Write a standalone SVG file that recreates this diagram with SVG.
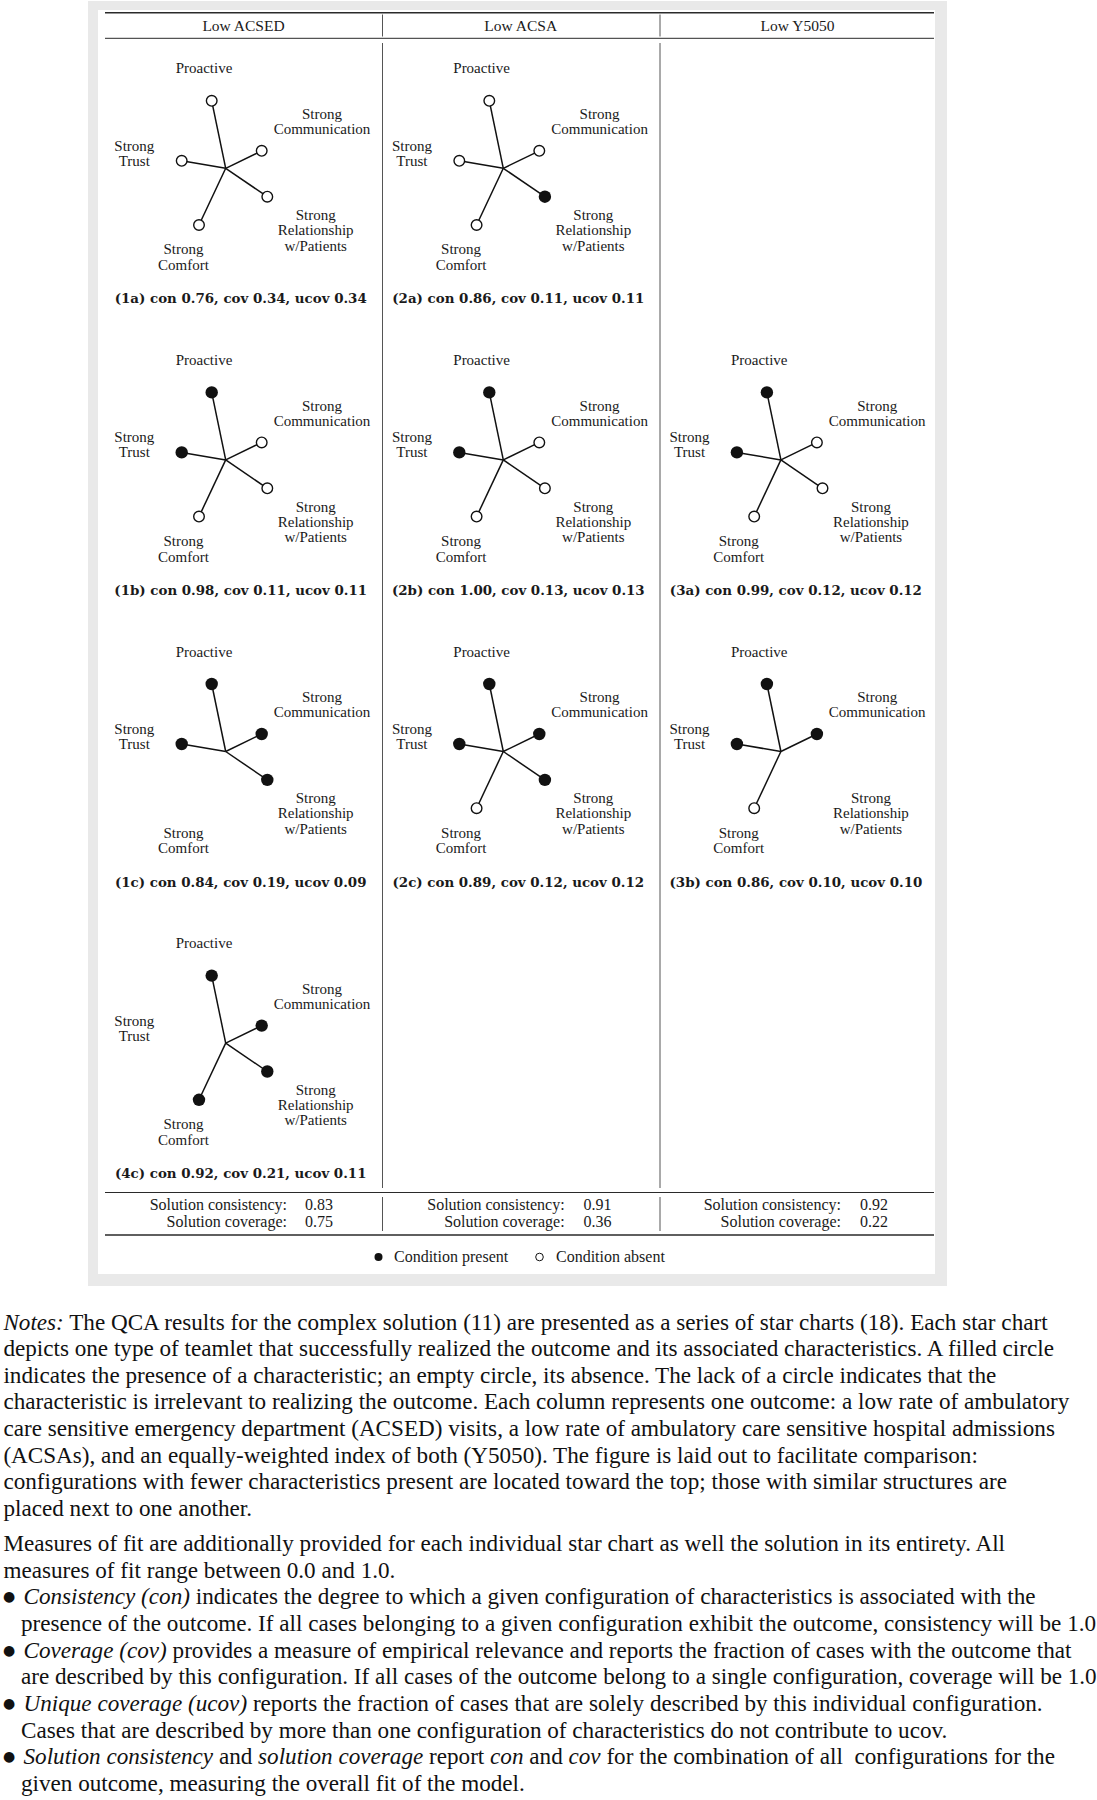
<svg xmlns="http://www.w3.org/2000/svg" width="1097" height="1800" viewBox="0 0 1097 1800">
<style>
.bg{fill:#e9e9e9}
.panel{fill:#ffffff}
.rule{stroke:#2a2a2a;stroke-width:1}
.rule-h{stroke:#2a2a2a;stroke-width:1.4}
.div{stroke:#555;stroke-width:1}
.hdr{font-family:"Liberation Serif","Times New Roman",serif;font-size:15.5px;fill:#1a1a1a;text-anchor:middle}
.lbl{font-family:"Liberation Serif","Times New Roman",serif;font-size:15px;fill:#1a1a1a;text-anchor:middle}
.cap{font-family:"DejaVu Serif",serif;font-weight:bold;font-size:13.4px;fill:#1a1a1a;text-anchor:middle}
.sol{font-family:"Liberation Serif","Times New Roman",serif;font-size:16px;fill:#1a1a1a}
.sr{text-anchor:end}
.spokes line{stroke:#111;stroke-width:1.5}
.on{fill:#111}
.off{fill:#fff;stroke:#111;stroke-width:1.4}
.note{font-family:"Liberation Serif","Times New Roman",serif;font-size:23.15px;fill:#111}
.it{font-style:italic}
.bul{font-family:"DejaVu Sans",sans-serif;font-size:14px;baseline-shift:3px}
</style>

<rect class="bg" x="88" y="1" width="859" height="1285"/>
<rect class="panel" x="98" y="10" width="837" height="1264"/>

<g id="table-rules">
<line class="rule-h" x1="105" y1="12.7" x2="934" y2="12.7"/>
<line class="rule" x1="105" y1="38.3" x2="934" y2="38.3"/>
<line class="rule" x1="105" y1="1192.5" x2="934" y2="1192.5"/>
<line class="rule-h" x1="105" y1="1235" x2="934" y2="1235"/>
<line class="div" x1="382.5" y1="14.5" x2="382.5" y2="36.5"/>
<line class="div" x1="660" y1="14.5" x2="660" y2="36.5"/>
<line class="div" x1="382.5" y1="43" x2="382.5" y2="1188"/>
<line class="div" x1="660" y1="43" x2="660" y2="1188"/>
<line class="div" x1="382.5" y1="1197" x2="382.5" y2="1231"/>
<line class="div" x1="660" y1="1197" x2="660" y2="1231"/>
</g>

<g id="headers">
<text class="hdr" x="243.5" y="30.5">Low ACSED</text>
<text class="hdr" x="520.7" y="30.5">Low ACSA</text>
<text class="hdr" x="797.5" y="30.5">Low Y5050</text>
</g>

<!-- Chart 1a -->
<g id="chart-1a" transform="translate(225.7,168.3)">
<g class="spokes"><line x1="0" y1="0" x2="-14" y2="-67.5"/><line x1="0" y1="0" x2="36" y2="-17.5"/><line x1="0" y1="0" x2="-44" y2="-7.5"/><line x1="0" y1="0" x2="41.6" y2="28.4"/><line x1="0" y1="0" x2="-26.7" y2="56.7"/></g>
<circle class="off" cx="-14" cy="-67.5" r="5.3"/><circle class="off" cx="36" cy="-17.5" r="5.3"/><circle class="off" cx="-44" cy="-7.5" r="5.3"/><circle class="off" cx="41.6" cy="28.4" r="5.3"/><circle class="off" cx="-26.7" cy="56.7" r="5.3"/>
<text class="lbl" x="-21.7" y="-95">Proactive</text>
<text class="lbl" x="96.3" y="-49.3">Strong</text><text class="lbl" x="96.3" y="-34.3">Communication</text>
<text class="lbl" x="-91.4" y="-17.6">Strong</text><text class="lbl" x="-91.4" y="-2.6">Trust</text>
<text class="lbl" x="90" y="51.7">Strong</text><text class="lbl" x="90" y="66.9">Relationship</text><text class="lbl" x="90" y="82.3">w/Patients</text>
<text class="lbl" x="-42.2" y="86.2">Strong</text><text class="lbl" x="-42.2" y="101.7">Comfort</text>
<text class="cap" x="15" y="135">(1a) con 0.76, cov 0.34, ucov 0.34</text>
</g>

<!-- Chart 2a -->
<g id="chart-2a" transform="translate(503.3,168.3)">
<g class="spokes"><line x1="0" y1="0" x2="-14" y2="-67.5"/><line x1="0" y1="0" x2="36" y2="-17.5"/><line x1="0" y1="0" x2="-44" y2="-7.5"/><line x1="0" y1="0" x2="41.6" y2="28.4"/><line x1="0" y1="0" x2="-26.7" y2="56.7"/></g>
<circle class="off" cx="-14" cy="-67.5" r="5.3"/><circle class="off" cx="36" cy="-17.5" r="5.3"/><circle class="off" cx="-44" cy="-7.5" r="5.3"/><circle class="on" cx="41.6" cy="28.4" r="6.2"/><circle class="off" cx="-26.7" cy="56.7" r="5.3"/>
<text class="lbl" x="-21.7" y="-95">Proactive</text>
<text class="lbl" x="96.3" y="-49.3">Strong</text><text class="lbl" x="96.3" y="-34.3">Communication</text>
<text class="lbl" x="-91.4" y="-17.6">Strong</text><text class="lbl" x="-91.4" y="-2.6">Trust</text>
<text class="lbl" x="90" y="51.7">Strong</text><text class="lbl" x="90" y="66.9">Relationship</text><text class="lbl" x="90" y="82.3">w/Patients</text>
<text class="lbl" x="-42.2" y="86.2">Strong</text><text class="lbl" x="-42.2" y="101.7">Comfort</text>
<text class="cap" x="15" y="135">(2a) con 0.86, cov 0.11, ucov 0.11</text>
</g>

<!-- Chart 1b -->
<g id="chart-1b" transform="translate(225.7,459.9)">
<g class="spokes"><line x1="0" y1="0" x2="-14" y2="-67.5"/><line x1="0" y1="0" x2="36" y2="-17.5"/><line x1="0" y1="0" x2="-44" y2="-7.5"/><line x1="0" y1="0" x2="41.6" y2="28.4"/><line x1="0" y1="0" x2="-26.7" y2="56.7"/></g>
<circle class="on" cx="-14" cy="-67.5" r="6.2"/><circle class="off" cx="36" cy="-17.5" r="5.3"/><circle class="on" cx="-44" cy="-7.5" r="6.2"/><circle class="off" cx="41.6" cy="28.4" r="5.3"/><circle class="off" cx="-26.7" cy="56.7" r="5.3"/>
<text class="lbl" x="-21.7" y="-95">Proactive</text>
<text class="lbl" x="96.3" y="-49.3">Strong</text><text class="lbl" x="96.3" y="-34.3">Communication</text>
<text class="lbl" x="-91.4" y="-17.6">Strong</text><text class="lbl" x="-91.4" y="-2.6">Trust</text>
<text class="lbl" x="90" y="51.7">Strong</text><text class="lbl" x="90" y="66.9">Relationship</text><text class="lbl" x="90" y="82.3">w/Patients</text>
<text class="lbl" x="-42.2" y="86.2">Strong</text><text class="lbl" x="-42.2" y="101.7">Comfort</text>
<text class="cap" x="15" y="135">(1b) con 0.98, cov 0.11, ucov 0.11</text>
</g>

<!-- Chart 2b -->
<g id="chart-2b" transform="translate(503.3,459.9)">
<g class="spokes"><line x1="0" y1="0" x2="-14" y2="-67.5"/><line x1="0" y1="0" x2="36" y2="-17.5"/><line x1="0" y1="0" x2="-44" y2="-7.5"/><line x1="0" y1="0" x2="41.6" y2="28.4"/><line x1="0" y1="0" x2="-26.7" y2="56.7"/></g>
<circle class="on" cx="-14" cy="-67.5" r="6.2"/><circle class="off" cx="36" cy="-17.5" r="5.3"/><circle class="on" cx="-44" cy="-7.5" r="6.2"/><circle class="off" cx="41.6" cy="28.4" r="5.3"/><circle class="off" cx="-26.7" cy="56.7" r="5.3"/>
<text class="lbl" x="-21.7" y="-95">Proactive</text>
<text class="lbl" x="96.3" y="-49.3">Strong</text><text class="lbl" x="96.3" y="-34.3">Communication</text>
<text class="lbl" x="-91.4" y="-17.6">Strong</text><text class="lbl" x="-91.4" y="-2.6">Trust</text>
<text class="lbl" x="90" y="51.7">Strong</text><text class="lbl" x="90" y="66.9">Relationship</text><text class="lbl" x="90" y="82.3">w/Patients</text>
<text class="lbl" x="-42.2" y="86.2">Strong</text><text class="lbl" x="-42.2" y="101.7">Comfort</text>
<text class="cap" x="15" y="135">(2b) con 1.00, cov 0.13, ucov 0.13</text>
</g>

<!-- Chart 3a -->
<g id="chart-3a" transform="translate(780.9,459.9)">
<g class="spokes"><line x1="0" y1="0" x2="-14" y2="-67.5"/><line x1="0" y1="0" x2="36" y2="-17.5"/><line x1="0" y1="0" x2="-44" y2="-7.5"/><line x1="0" y1="0" x2="41.6" y2="28.4"/><line x1="0" y1="0" x2="-26.7" y2="56.7"/></g>
<circle class="on" cx="-14" cy="-67.5" r="6.2"/><circle class="off" cx="36" cy="-17.5" r="5.3"/><circle class="on" cx="-44" cy="-7.5" r="6.2"/><circle class="off" cx="41.6" cy="28.4" r="5.3"/><circle class="off" cx="-26.7" cy="56.7" r="5.3"/>
<text class="lbl" x="-21.7" y="-95">Proactive</text>
<text class="lbl" x="96.3" y="-49.3">Strong</text><text class="lbl" x="96.3" y="-34.3">Communication</text>
<text class="lbl" x="-91.4" y="-17.6">Strong</text><text class="lbl" x="-91.4" y="-2.6">Trust</text>
<text class="lbl" x="90" y="51.7">Strong</text><text class="lbl" x="90" y="66.9">Relationship</text><text class="lbl" x="90" y="82.3">w/Patients</text>
<text class="lbl" x="-42.2" y="86.2">Strong</text><text class="lbl" x="-42.2" y="101.7">Comfort</text>
<text class="cap" x="15" y="135">(3a) con 0.99, cov 0.12, ucov 0.12</text>
</g>

<!-- Chart 1c -->
<g id="chart-1c" transform="translate(225.7,751.5)">
<g class="spokes"><line x1="0" y1="0" x2="-14" y2="-67.5"/><line x1="0" y1="0" x2="36" y2="-17.5"/><line x1="0" y1="0" x2="-44" y2="-7.5"/><line x1="0" y1="0" x2="41.6" y2="28.4"/></g>
<circle class="on" cx="-14" cy="-67.5" r="6.2"/><circle class="on" cx="36" cy="-17.5" r="6.2"/><circle class="on" cx="-44" cy="-7.5" r="6.2"/><circle class="on" cx="41.6" cy="28.4" r="6.2"/>
<text class="lbl" x="-21.7" y="-95">Proactive</text>
<text class="lbl" x="96.3" y="-49.3">Strong</text><text class="lbl" x="96.3" y="-34.3">Communication</text>
<text class="lbl" x="-91.4" y="-17.6">Strong</text><text class="lbl" x="-91.4" y="-2.6">Trust</text>
<text class="lbl" x="90" y="51.7">Strong</text><text class="lbl" x="90" y="66.9">Relationship</text><text class="lbl" x="90" y="82.3">w/Patients</text>
<text class="lbl" x="-42.2" y="86.2">Strong</text><text class="lbl" x="-42.2" y="101.7">Comfort</text>
<text class="cap" x="15" y="135">(1c) con 0.84, cov 0.19, ucov 0.09</text>
</g>

<!-- Chart 2c -->
<g id="chart-2c" transform="translate(503.3,751.5)">
<g class="spokes"><line x1="0" y1="0" x2="-14" y2="-67.5"/><line x1="0" y1="0" x2="36" y2="-17.5"/><line x1="0" y1="0" x2="-44" y2="-7.5"/><line x1="0" y1="0" x2="41.6" y2="28.4"/><line x1="0" y1="0" x2="-26.7" y2="56.7"/></g>
<circle class="on" cx="-14" cy="-67.5" r="6.2"/><circle class="on" cx="36" cy="-17.5" r="6.2"/><circle class="on" cx="-44" cy="-7.5" r="6.2"/><circle class="on" cx="41.6" cy="28.4" r="6.2"/><circle class="off" cx="-26.7" cy="56.7" r="5.3"/>
<text class="lbl" x="-21.7" y="-95">Proactive</text>
<text class="lbl" x="96.3" y="-49.3">Strong</text><text class="lbl" x="96.3" y="-34.3">Communication</text>
<text class="lbl" x="-91.4" y="-17.6">Strong</text><text class="lbl" x="-91.4" y="-2.6">Trust</text>
<text class="lbl" x="90" y="51.7">Strong</text><text class="lbl" x="90" y="66.9">Relationship</text><text class="lbl" x="90" y="82.3">w/Patients</text>
<text class="lbl" x="-42.2" y="86.2">Strong</text><text class="lbl" x="-42.2" y="101.7">Comfort</text>
<text class="cap" x="15" y="135">(2c) con 0.89, cov 0.12, ucov 0.12</text>
</g>

<!-- Chart 3b -->
<g id="chart-3b" transform="translate(780.9,751.5)">
<g class="spokes"><line x1="0" y1="0" x2="-14" y2="-67.5"/><line x1="0" y1="0" x2="36" y2="-17.5"/><line x1="0" y1="0" x2="-44" y2="-7.5"/><line x1="0" y1="0" x2="-26.7" y2="56.7"/></g>
<circle class="on" cx="-14" cy="-67.5" r="6.2"/><circle class="on" cx="36" cy="-17.5" r="6.2"/><circle class="on" cx="-44" cy="-7.5" r="6.2"/><circle class="off" cx="-26.7" cy="56.7" r="5.3"/>
<text class="lbl" x="-21.7" y="-95">Proactive</text>
<text class="lbl" x="96.3" y="-49.3">Strong</text><text class="lbl" x="96.3" y="-34.3">Communication</text>
<text class="lbl" x="-91.4" y="-17.6">Strong</text><text class="lbl" x="-91.4" y="-2.6">Trust</text>
<text class="lbl" x="90" y="51.7">Strong</text><text class="lbl" x="90" y="66.9">Relationship</text><text class="lbl" x="90" y="82.3">w/Patients</text>
<text class="lbl" x="-42.2" y="86.2">Strong</text><text class="lbl" x="-42.2" y="101.7">Comfort</text>
<text class="cap" x="15" y="135">(3b) con 0.86, cov 0.10, ucov 0.10</text>
</g>

<!-- Chart 4c -->
<g id="chart-4c" transform="translate(225.7,1043.1)">
<g class="spokes"><line x1="0" y1="0" x2="-14" y2="-67.5"/><line x1="0" y1="0" x2="36" y2="-17.5"/><line x1="0" y1="0" x2="41.6" y2="28.4"/><line x1="0" y1="0" x2="-26.7" y2="56.7"/></g>
<circle class="on" cx="-14" cy="-67.5" r="6.2"/><circle class="on" cx="36" cy="-17.5" r="6.2"/><circle class="on" cx="41.6" cy="28.4" r="6.2"/><circle class="on" cx="-26.7" cy="56.7" r="6.2"/>
<text class="lbl" x="-21.7" y="-95">Proactive</text>
<text class="lbl" x="96.3" y="-49.3">Strong</text><text class="lbl" x="96.3" y="-34.3">Communication</text>
<text class="lbl" x="-91.4" y="-17.6">Strong</text><text class="lbl" x="-91.4" y="-2.6">Trust</text>
<text class="lbl" x="90" y="51.7">Strong</text><text class="lbl" x="90" y="66.9">Relationship</text><text class="lbl" x="90" y="82.3">w/Patients</text>
<text class="lbl" x="-42.2" y="86.2">Strong</text><text class="lbl" x="-42.2" y="101.7">Comfort</text>
<text class="cap" x="15" y="135">(4c) con 0.92, cov 0.21, ucov 0.11</text>
</g>

<g id="solution-fit">
<text class="sol sr" x="287" y="1210">Solution consistency:</text><text class="sol" x="305" y="1210">0.83</text>
<text class="sol sr" x="287" y="1227">Solution coverage:</text><text class="sol" x="305" y="1227">0.75</text>
<text class="sol sr" x="564.6" y="1210">Solution consistency:</text><text class="sol" x="583.5" y="1210">0.91</text>
<text class="sol sr" x="564.6" y="1227">Solution coverage:</text><text class="sol" x="583.5" y="1227">0.36</text>
<text class="sol sr" x="841" y="1210">Solution consistency:</text><text class="sol" x="860" y="1210">0.92</text>
<text class="sol sr" x="841" y="1227">Solution coverage:</text><text class="sol" x="860" y="1227">0.22</text>
</g>

<g id="legend">
<circle class="on" cx="378.5" cy="1257" r="4"/>
<text class="sol" x="394" y="1262">Condition present</text>
<circle class="off" cx="539.5" cy="1257" r="3.8" style="stroke-width:1"/>
<text class="sol" x="556" y="1262">Condition absent</text>
</g>

<g id="notes" class="note">
<text x="3.4" y="1329.5"><tspan class="it">Notes:</tspan> The QCA results for the complex solution (11) are presented as a series of star charts (18). Each star chart</text>
<text x="3.4" y="1356.15">depicts one type of teamlet that successfully realized the outcome and its associated characteristics. A filled circle</text>
<text x="3.4" y="1382.8">indicates the presence of a characteristic; an empty circle, its absence. The lack of a circle indicates that the</text>
<text x="3.4" y="1409.45">characteristic is irrelevant to realizing the outcome. Each column represents one outcome: a low rate of ambulatory</text>
<text x="3.4" y="1436.1">care sensitive emergency department (ACSED) visits, a low rate of ambulatory care sensitive hospital admissions</text>
<text x="3.4" y="1462.75">(ACSAs), and an equally-weighted index of both (Y5050). The figure is laid out to facilitate comparison:</text>
<text x="3.4" y="1489.4">configurations with fewer characteristics present are located toward the top; those with similar structures are</text>
<text x="3.4" y="1516.05">placed next to one another.</text>
<text x="3.4" y="1551">Measures of fit are additionally provided for each individual star chart as well the solution in its entirety. All</text>
<text x="3.4" y="1577.65">measures of fit range between 0.0 and 1.0.</text>
<text x="3" y="1604.3"><tspan class="bul">●</tspan><tspan x="23.5" class="it">Consistency (con)</tspan> indicates the degree to which a given configuration of characteristics is associated with the</text>
<text x="21" y="1630.95">presence of the outcome. If all cases belonging to a given configuration exhibit the outcome, consistency will be 1.0</text>
<text x="3" y="1657.6"><tspan class="bul">●</tspan><tspan x="23.5" class="it">Coverage (cov)</tspan> provides a measure of empirical relevance and reports the fraction of cases with the outcome that</text>
<text x="21" y="1684.25">are described by this configuration. If all cases of the outcome belong to a single configuration, coverage will be 1.0</text>
<text x="3" y="1710.9"><tspan class="bul">●</tspan><tspan x="23.5" class="it">Unique coverage (ucov)</tspan> reports the fraction of cases that are solely described by this individual configuration.</text>
<text x="21" y="1737.55">Cases that are described by more than one configuration of characteristics do not contribute to ucov.</text>
<text x="3" y="1764.2" xml:space="preserve"><tspan class="bul">●</tspan><tspan x="23.5" class="it">Solution consistency</tspan> and <tspan class="it">solution coverage</tspan> report <tspan class="it">con</tspan> and <tspan class="it">cov</tspan> for the combination of all  configurations for the</text>
<text x="21" y="1790.85">given outcome, measuring the overall fit of the model.</text>
</g>
</svg>
